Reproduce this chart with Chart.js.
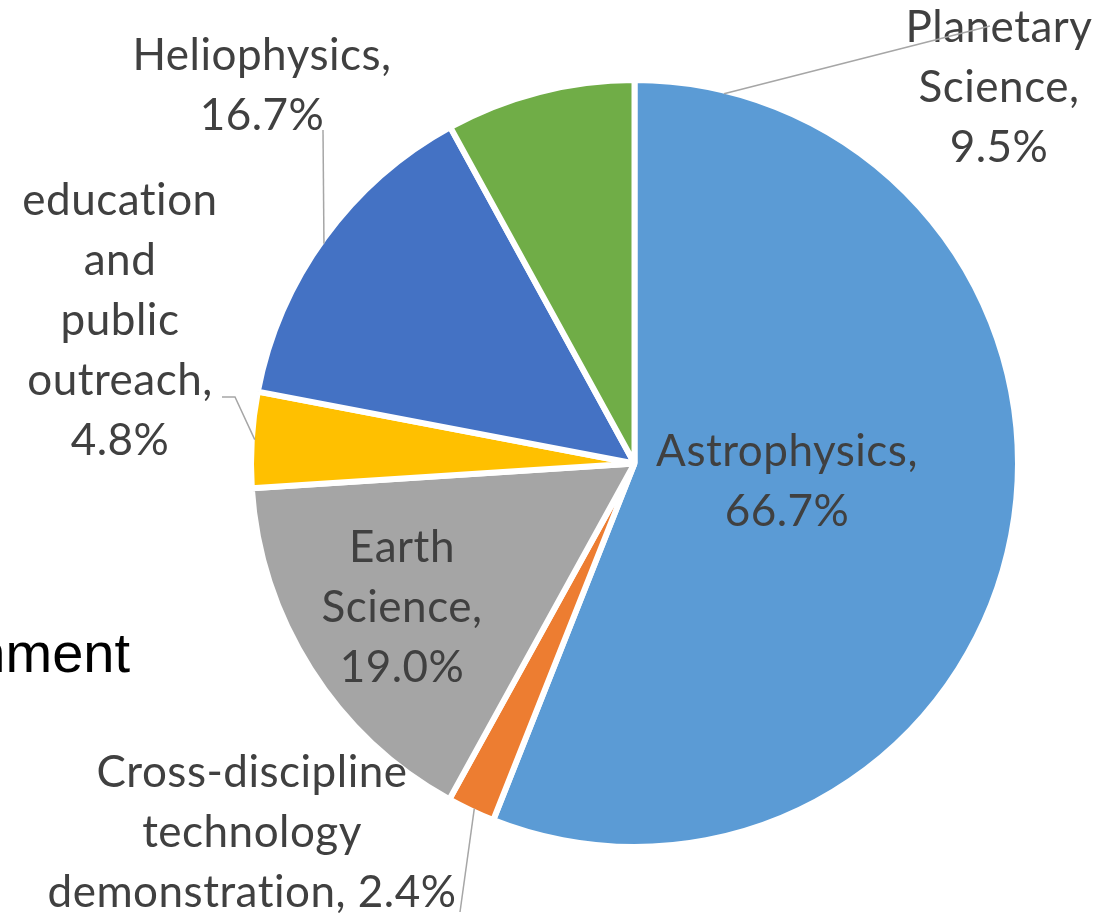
<!DOCTYPE html>
<html>
<head>
<meta charset="utf-8">
<title>Science division share</title>
<script src="https://cdn.jsdelivr.net/npm/chart.js@4.4.1/dist/chart.umd.min.js"></script>
<style>
  html, body { margin: 0; padding: 0; background: #fff; }
  #wrap { position: relative; width: 1112px; height: 916px; overflow: hidden; }
</style>
</head>
<body>
<div id="wrap"><canvas id="pieChart" width="1112" height="916"></canvas></div>
<script>
// slices, clockwise from 12 o'clock
const categories = ["Astrophysics", "Cross-discipline technology demonstration", "Earth Science",
  "education and public outreach", "Heliophysics", "Planetary Science"];
const values = [66.7, 2.4, 19.0, 4.8, 16.7, 9.5];
const colors = ["#5b9bd5", "#ed7d31", "#a5a5a5", "#ffc000", "#4472c4", "#70ad47"];

// how each label wraps, {v} gets the value
const labelLines = [
  ["Astrophysics,", "{v}"],
  ["Cross-discipline", "technology", "demonstration, {v}"],
  ["Earth", "Science,", "{v}"],
  ["education", "and", "public", "outreach,", "{v}"],
  ["Heliophysics,", "{v}"],
  ["Planetary", "Science,", "{v}"]
];

// label centre x / first baseline
const labelPos = [[787, 466], [252, 787], [402, 562], [120, 215], [262, 70], [999, 42]];

// leader lines: start angle on the rim (deg from top, clockwise), then the points to the label
const leaders = [
  { angle: 13.6, points: [[990, 26]] },
  { angle: 305.3, points: [[323, 130]] },
  { angle: 273.6, points: [[235, 397], [222, 397]] },
  { angle: 204.9, points: [[460, 912]] }
];

const labelPlugin = {
  id: "sliceLabels",
  afterDatasetsDraw(chart) {
    const ctx = chart.ctx;
    const arc = chart.getDatasetMeta(0).data[0];
    const cx = arc.x, cy = arc.y, r = arc.outerRadius - 3;
    ctx.save();

    ctx.fillStyle = "#404040";
    ctx.font = "44px Lato";
    ctx.letterSpacing = "0.5px"; // also stops the "ti" ligature
    ctx.textAlign = "center";
    ctx.textBaseline = "alphabetic";
    labelLines.forEach((lines, i) => {
      const v = values[i].toFixed(1) + "%";
      lines.forEach((t, j) => {
        ctx.fillText(t.replace("{v}", v), labelPos[i][0], labelPos[i][1] + j * 60);
      });
    });
    ctx.letterSpacing = "0px";

    ctx.strokeStyle = "#a6a6a6";
    ctx.lineWidth = 1.5;
    leaders.forEach(l => {
      const a = l.angle * Math.PI / 180;
      ctx.beginPath();
      ctx.moveTo(cx + r * Math.sin(a), cy - r * Math.cos(a));
      l.points.forEach(p => ctx.lineTo(p[0], p[1]));
      ctx.stroke();
    });

    // leftover slide text cut by the left edge
    ctx.fillStyle = "#000";
    ctx.font = '56px "Liberation Sans"';
    ctx.textAlign = "right";
    ctx.fillText("nment", 130, 672);
    ctx.restore();
  }
};

const ctx = document.getElementById("pieChart").getContext("2d");
const pieChart = new Chart(ctx, {
  type: "pie",
  data: {
    labels: categories,
    datasets: [{
      data: values,
      backgroundColor: colors,
      borderColor: "#ffffff",
      borderWidth: 6
    }]
  },
  options: {
    responsive: false,
    animation: false,
    events: [],
    layout: { padding: { left: 248, right: 91, top: 77, bottom: 66 } },
    plugins: {
      legend: { display: false },
      tooltip: { enabled: false }
    }
  },
  plugins: [labelPlugin]
});
</script>
</body>
</html>
